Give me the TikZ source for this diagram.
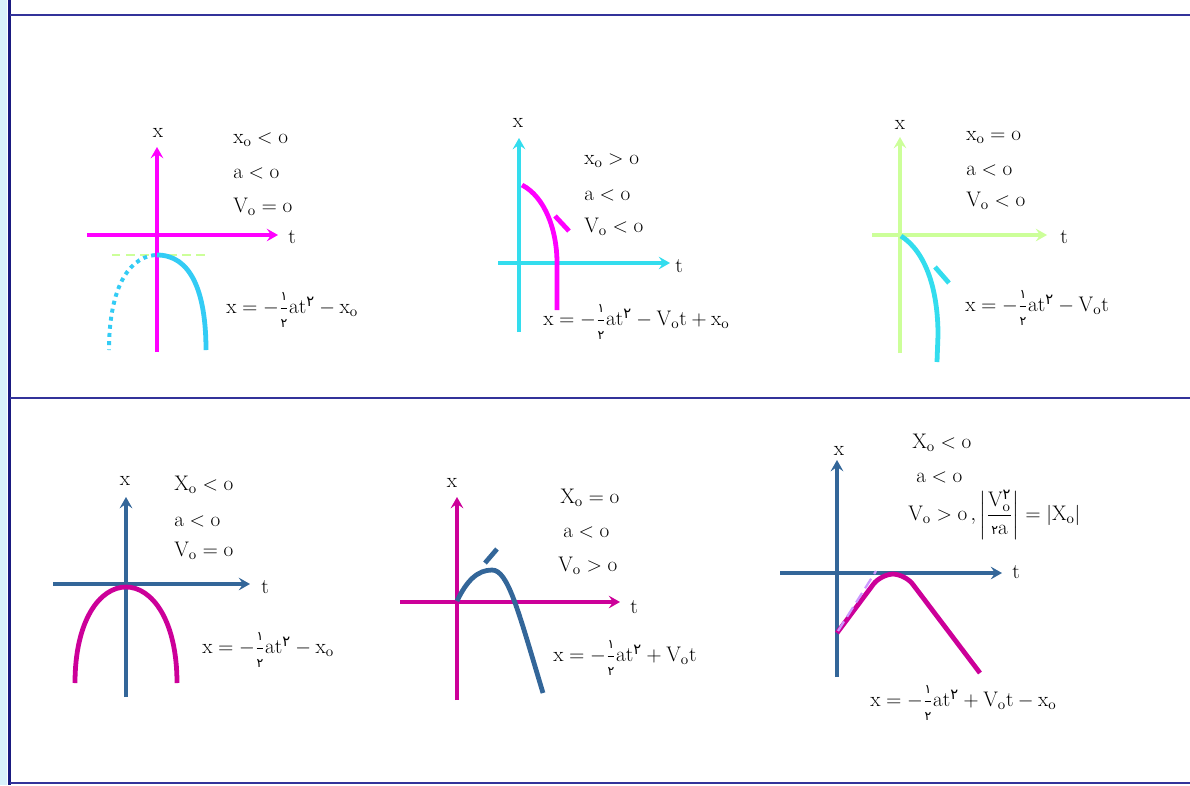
\documentclass[tikz,border=0pt]{standalone}
\usepackage{amsmath}
\usepackage{fontspec}
\usepackage{tikz}
\usetikzlibrary{arrows.meta}

\newfontfamily\pfont[Script=Arabic]{DejaVu Sans}
\newcommand{\pone}{\text{\pfont\small ۱}}
\newcommand{\ptwo}{\text{\pfont ۲}}
\newcommand{\pdtwo}{\text{\pfont\small ۲}}
\newcommand{\phalf}{\dfrac{\pone}{\pdtwo}}
\newcommand{\xsub}{\mathrm{x}_{\mathrm{o}}}
\newcommand{\Xsub}{\mathrm{X}_{\mathrm{o}}}
\newcommand{\Vsub}{\mathrm{V}_{\mathrm{o}}}

\definecolor{framenavy}{HTML}{1A1A80}
\definecolor{framerule}{HTML}{33339A}
\definecolor{stripcyan}{HTML}{D8F1FB}
\definecolor{brightpink}{HTML}{FF00FF}
\definecolor{skycyan}{HTML}{33CCF5}
\definecolor{aquacyan}{HTML}{33DDEE}
\definecolor{palegreen}{HTML}{CCFF99}
\definecolor{steelblue}{HTML}{336699}
\definecolor{deeppink}{HTML}{CC0099}
\definecolor{lavender}{HTML}{CC99FF}

\tikzset{
  axis/.style={line width=2.2pt, -{Stealth[length=8pt,width=9pt,inset=3pt]}},
  curve/.style={line width=3.4pt},
  lbl/.style={font=\fontsize{15}{17}\selectfont, inner sep=0pt},
  cond/.style={lbl, anchor=west},
}

\begin{document}
\begin{tikzpicture}[x=0.025cm, y=-0.025cm]
  \useasboundingbox (0,0) rectangle (1190,785);
  \fill[white] (0,0) rectangle (1190,785);

  % frame
  \fill[stripcyan] (0,0) rectangle (7,785);
  \draw[framenavy, line width=2.4pt] (9.5,0) -- (9.5,785);
  \draw[framerule, line width=1.6pt] (9.5,15) -- (1190,15);
  \draw[framerule, line width=1.6pt] (9.5,398) -- (1190,398);
  \draw[framerule, line width=1.6pt] (9.5,783) -- (1190,783);

  % panel 1
  \draw[palegreen, line width=2pt, dash pattern=on 6pt off 4pt] (112,255) -- (205,255);
  \draw[axis, brightpink] (87,235) -- (278,235);
  \draw[axis, brightpink] (157,352) -- (157,147);
  \draw[curve, skycyan] (157,255) .. controls (190,255) and (206,290) .. (206,350);
  \draw[curve, skycyan, line width=2.8pt, dash pattern=on 2.8pt off 3pt]
    (155,255) .. controls (125,258) and (109,295) .. (109,350);
  \node[lbl] (x1) at (158,133) {x};
  \node[lbl] (t1) at (292,237) {t};
  \node[cond] (p1a) at (233,140) {$\xsub<\mathrm{o}$};
  \node[cond] (p1b) at (233,173) {$\mathrm{a}<\mathrm{o}$};
  \node[cond] (p1c) at (233,207) {$\Vsub=\mathrm{o}$};
  \node[cond] (p1f) at (226,310) {$\mathrm{x}=-\phalf\mathrm{at}^{\ptwo}-\xsub$};

  % panel 2
  \draw[axis, aquacyan] (498,263) -- (670,263);
  \draw[axis, aquacyan] (519,332) -- (519,138);
  \draw[curve, brightpink] (522,185) .. controls (545,197) and (557,230) .. (557,263) -- (557,310);
  \draw[curve, brightpink] (555,216) -- (569,231);
  \node[lbl] (x2) at (518,123) {x};
  \node[lbl] (t2) at (679,266) {t};
  \node[cond] (p2a) at (584,161) {$\xsub>\mathrm{o}$};
  \node[cond] (p2b) at (584,195) {$\mathrm{a}<\mathrm{o}$};
  \node[cond] (p2c) at (584,227) {$\Vsub<\mathrm{o}$};
  \node[cond] (p2f) at (543,322) {$\mathrm{x}=-\phalf\mathrm{at}^{\ptwo}-\Vsub\mathrm{t}+\xsub$};

  % panel 3
  \draw[axis, palegreen] (872,235) -- (1047,235);
  \draw[axis, palegreen] (900,353) -- (900,137);
  \draw[curve, aquacyan] (901,236) .. controls (926,252) and (938,290) .. (938,335) -- (937,362);
  \draw[curve, aquacyan] (935,267) -- (949,283);
  \node[lbl] (x3) at (900,125) {x};
  \node[lbl] (t3) at (1064,237) {t};
  \node[cond] (p3a) at (966,137) {$\xsub=\mathrm{o}$};
  \node[cond] (p3b) at (966,170) {$\mathrm{a}<\mathrm{o}$};
  \node[cond] (p3c) at (966,201) {$\Vsub<\mathrm{o}$};
  \node[cond] (p3f) at (965,308) {$\mathrm{x}=-\phalf\mathrm{at}^{\ptwo}-\Vsub\mathrm{t}$};

  % panel 4
  \draw[axis, steelblue] (53,584) -- (250,584);
  \draw[axis, steelblue] (126,697) -- (126,497);
  \draw[curve, deeppink] (75,683) .. controls (75,620) and (100,587) .. (126,587)
    .. controls (152,587) and (177,620) .. (177,683);
  \node[lbl] (x4) at (125,481) {x};
  \node[lbl] (t4) at (265,587) {t};
  \node[cond] (p4a) at (174,485) {$\Xsub<\mathrm{o}$};
  \node[cond] (p4b) at (174,521) {$\mathrm{a}<\mathrm{o}$};
  \node[cond] (p4c) at (174,551) {$\Vsub=\mathrm{o}$};
  \node[cond] (p4f) at (202,650) {$\mathrm{x}=-\phalf\mathrm{at}^{\ptwo}-\xsub$};

  % panel 5
  \draw[axis, deeppink] (400,602) -- (620,602);
  \draw[axis, deeppink] (457,700) -- (457,497);
  \draw[curve, steelblue] (457,601) .. controls (467,580) and (478,570) .. (492,570)
    .. controls (508,570) and (518,610) .. (543,693);
  \draw[curve, steelblue] (485,563) -- (497,549);
  \node[lbl] (x5) at (452,483) {x};
  \node[lbl] (t5) at (634,607) {t};
  \node[cond] (p5a) at (560,498) {$\Xsub=\mathrm{o}$};
  \node[cond] (p5b) at (563,532) {$\mathrm{a}<\mathrm{o}$};
  \node[cond] (p5c) at (558,566) {$\Vsub>\mathrm{o}$};
  \node[cond] (p5f) at (553,658) {$\mathrm{x}=-\phalf\mathrm{at}^{\ptwo}+\Vsub\mathrm{t}$};

  % panel 6
  \draw[axis, steelblue] (780,573) -- (1002,573);
  \draw[axis, steelblue] (837,677) -- (837,460);
  \draw[curve, deeppink, rounded corners=9pt] (837,633) -- (881,574) -- (905,574) -- (980,673);
  \draw[lavender, line width=1.6pt, dash pattern=on 8pt off 4pt] (838,631) -- (876,571);
  \node[lbl] (x6) at (839,451) {x};
  \node[lbl] (t6) at (1016,572) {t};
  \node[cond] (p6a) at (912,443) {$\Xsub<\mathrm{o}$};
  \node[cond] (p6b) at (916,477) {$\mathrm{a}<\mathrm{o}$};
  \node[cond] (p6c) at (908,515) {$\Vsub>\mathrm{o}\,,\left|\dfrac{\Vsub^{\ptwo}}{\pdtwo\mathrm{a}}\right|=\left|\Xsub\right|$};
  \node[cond] (p6f) at (870,703) {$\mathrm{x}=-\phalf\mathrm{at}^{\ptwo}+\Vsub\mathrm{t}-\xsub$};
\end{tikzpicture}
\end{document}
